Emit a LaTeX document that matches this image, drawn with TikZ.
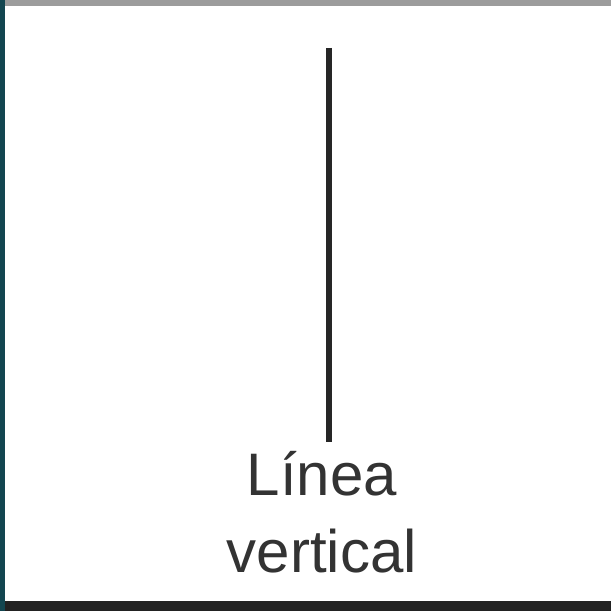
\documentclass[tikz,border=0pt]{standalone}
\usepackage{fontspec}
\setmainfont{Liberation Sans}
\usepackage{tikz}
\usetikzlibrary{positioning,calc}

\definecolor{frameteal}{HTML}{134650}
\definecolor{framegrey}{HTML}{9C9C9C}
\definecolor{framedark}{HTML}{222222}
\definecolor{inkgrey}{HTML}{333333}
\definecolor{rulegrey}{HTML}{262626}

\begin{document}
\begin{tikzpicture}[
    x=1pt, y=1pt,
    rule/.style={draw=rulegrey, line width=6pt, shorten >=9pt},
    caption/.style={text=inkgrey, align=center, inner sep=0pt, font=\fontsize{60}{77}\selectfont}
]
\useasboundingbox (0,0) rectangle (611,611);
\fill[white] (0,0) rectangle (611,611);
% frame
\fill[framegrey] (0,605) rectangle (611,611);
\fill[framedark] (0,0) rectangle (611,10);
\fill[frameteal] (0,0) rectangle (5,611);

\node[caption, anchor=north] (label) at (322,160) {Línea\\vertical};
\coordinate (top) at (328.5,563);

\draw[rule] (top) -- (top |- label.north);
\end{tikzpicture}
\end{document}
